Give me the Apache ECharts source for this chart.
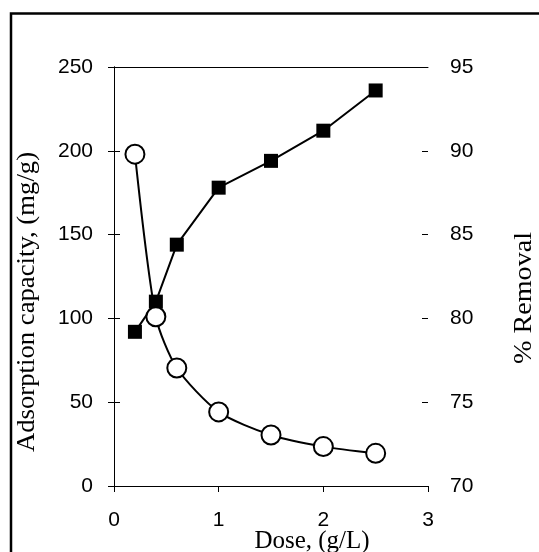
<!DOCTYPE html>
<html>
<head>
<meta charset="utf-8">
<script src="https://cdn.jsdelivr.net/npm/echarts@6/dist/echarts.min.js"></script>
<style>
  html, body { margin: 0; padding: 0; background: #fff; }
  #chart { width: 539px; height: 552px; }
</style>
</head>
<body>
<div id="chart"></div>
<script>
// Adsorbent dose study: capacity (left axis) and % removal (right axis)
const doses = [0.2, 0.4, 0.6, 1.0, 1.5, 2.0, 2.5];
const capacity = [198, 101, 70.4, 44.2, 30.4, 23.5, 19.5];
const removal = [79.2, 81.0, 84.4, 87.8, 89.4, 91.2, 93.6];

const xTicks = [0, 1, 2, 3];
const capTicks = [0, 50, 100, 150, 200, 250];
const remTicks = [70, 75, 80, 85, 90, 95];

const SANS = 'Liberation Sans';
const SERIF = 'Liberation Serif';
const axisLine = { show: true, lineStyle: { color: '#000', width: 1 } };
const blackTick = { color: '#000', width: 1 };

const chart = echarts.init(document.getElementById('chart'), null, { renderer: 'canvas' });

chart.setOption({
  animation: false,
  backgroundColor: '#fff',
  grid: { left: 114, right: 111, top: 67, bottom: 66, containLabel: false },
  xAxis: [
    {
      type: 'value', position: 'bottom',
      min: xTicks[0], max: xTicks[xTicks.length - 1], interval: 1,
      axisLine: axisLine,
      axisTick: { show: true, inside: false, length: 6, lineStyle: blackTick },
      axisLabel: { show: true, margin: 24, fontSize: 21, fontFamily: SANS, color: '#000' },
      splitLine: { show: false }
    },
    {
      // top frame line of the plot area
      type: 'value', position: 'top',
      min: xTicks[0], max: xTicks[xTicks.length - 1], interval: 1,
      axisLine: axisLine,
      axisTick: { show: false }, axisLabel: { show: false }, splitLine: { show: false }
    }
  ],
  yAxis: [
    {
      type: 'value', position: 'left',
      min: capTicks[0], max: capTicks[capTicks.length - 1], interval: 50,
      axisLine: axisLine,
      axisTick: { show: true, inside: false, length: 6, lineStyle: blackTick },
      axisLabel: { show: true, margin: 21, fontSize: 21, fontFamily: SANS, color: '#000' },
      splitLine: { show: false }
    },
    {
      type: 'value', position: 'right', offset: 0,
      min: remTicks[0], max: remTicks[remTicks.length - 1], interval: 5,
      axisLine: axisLine,
      axisTick: { show: true, inside: false, length: 6, lineStyle: blackTick },
      axisLabel: { show: true, margin: 22, fontSize: 21, fontFamily: SANS, color: '#000' },
      splitLine: { show: false }
    },
    {
      // inner half of the crossing ticks on the right axis
      type: 'value', position: 'right', offset: 0,
      min: remTicks[0], max: remTicks[remTicks.length - 1], interval: 5,
      axisLine: { show: false },
      axisTick: { show: true, inside: true, length: 6, lineStyle: blackTick },
      axisLabel: { show: false },
      splitLine: { show: false }
    }
  ],
  series: [
    {
      name: '% Removal',
      type: 'line',
      xAxisIndex: 0, yAxisIndex: 1,
      data: doses.map((d, i) => [d, removal[i]]),
      symbol: 'rect', symbolSize: 14,
      itemStyle: { color: '#000', borderColor: '#000', borderWidth: 0 },
      lineStyle: { color: '#000', width: 2 },
      z: 2
    },
    {
      name: 'Adsorption capacity',
      type: 'line',
      xAxisIndex: 0, yAxisIndex: 0,
      data: doses.map((d, i) => [d, capacity[i]]),
      smooth: 0.25,
      symbol: 'circle', symbolSize: 19,
      itemStyle: { color: '#fff', borderColor: '#000', borderWidth: 2 },
      lineStyle: { color: '#000', width: 2 },
      z: 3
    }
  ],
  graphic: [
    {
      type: 'rect', left: 8.5, top: 11, silent: true,
      shape: { x: 0, y: 0, width: 700, height: 700 },
      style: { fill: 'none', stroke: '#000', lineWidth: 2.5 }
    },
    {
      type: 'text', x: 28, y: 302, rotation: Math.PI / 2, scaleX: 1.09,
      style: {
        text: 'Adsorption capacity, (mg/g)',
        fontSize: 24.5, fontFamily: SERIF,
        fill: '#000', align: 'center', verticalAlign: 'middle'
      }
    },
    {
      type: 'text', x: 525, y: 298, rotation: Math.PI / 2, scaleX: 1.15,
      style: {
        text: '% Removal',
        fontSize: 24.5, fontFamily: SERIF,
        fill: '#000', align: 'center', verticalAlign: 'middle'
      }
    },
    {
      type: 'text', x: 312, y: 541,
      style: {
        text: 'Dose, (g/L)',
        fontSize: 25, fontFamily: SERIF,
        fill: '#000', align: 'center', verticalAlign: 'middle'
      }
    }
  ]
});
</script>
</body>
</html>
